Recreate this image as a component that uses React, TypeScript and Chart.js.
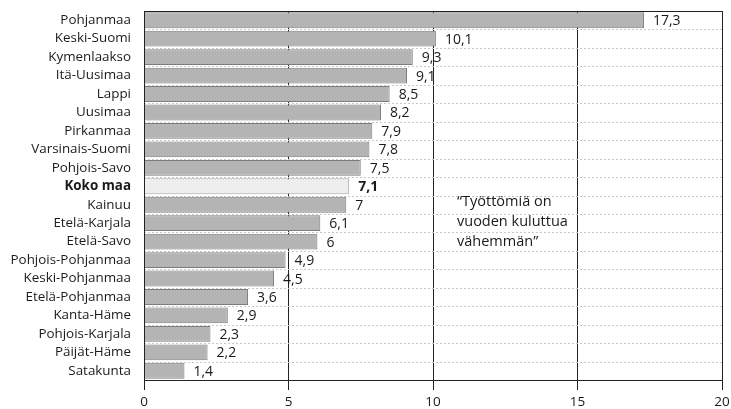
import React, { useEffect, useRef } from "react";
import { Chart, registerables } from "chart.js";

Chart.register(...registerables);

const regions = [
  "Pohjanmaa", "Keski-Suomi", "Kymenlaakso", "Itä-Uusimaa", "Lappi", "Uusimaa",
  "Pirkanmaa", "Varsinais-Suomi", "Pohjois-Savo", "Koko maa", "Kainuu",
  "Etelä-Karjala", "Etelä-Savo", "Pohjois-Pohjanmaa", "Keski-Pohjanmaa",
  "Etelä-Pohjanmaa", "Kanta-Häme", "Pohjois-Karjala", "Päijät-Häme", "Satakunta",
];
const values = [17.3, 10.1, 9.3, 9.1, 8.5, 8.2, 7.9, 7.8, 7.5, 7.1, 7, 6.1, 6, 4.9, 4.5, 3.6, 2.9, 2.3, 2.2, 1.4];
const valueLabels = ["17,3", "10,1", "9,3", "9,1", "8,5", "8,2", "7,9", "7,8", "7,5", "7,1", "7", "6,1", "6", "4,9", "4,5", "3,6", "2,9", "2,3", "2,2", "1,4"];
const highlight = "Koko maa";
const xTicks = [0, 5, 10, 15, 20];
const noteLines = ["\u201cTyöttömiä on", "vuoden kuluttua", "vähemmän\u201d"];

const FONT = "'Open Sans', 'DejaVu Sans', sans-serif";

export default function App() {
  const ref = useRef<HTMLCanvasElement | null>(null);

  useEffect(() => {
    document.body.style.margin = "0";
    const canvas = ref.current;
    if (!canvas) return;

    const deco = {
      id: "deco",
      beforeDatasetsDraw(chart: any) {
        const { ctx, chartArea } = chart;
        const y = chart.scales.y;
        ctx.save();
        ctx.strokeStyle = "#c8c8c8";
        ctx.lineWidth = 1;
        ctx.setLineDash([2, 2]);
        for (let i = 1; i < regions.length; i++) {
          const py = Math.round((y.getPixelForValue(i - 1) + y.getPixelForValue(i)) / 2) + 0.5;
          ctx.beginPath();
          ctx.moveTo(chartArea.left, py);
          ctx.lineTo(chartArea.right, py);
          ctx.stroke();
        }
        ctx.restore();
      },
      afterDatasetsDraw(chart: any) {
        const { ctx, chartArea } = chart;
        const x = chart.scales.x;
        const y = chart.scales.y;
        ctx.save();
        ctx.strokeStyle = "#222";
        ctx.lineWidth = 1;
        ctx.strokeRect(Math.round(chartArea.left) + 0.5, Math.round(chartArea.top) + 0.5,
          Math.round(chartArea.right - chartArea.left), Math.round(chartArea.bottom - chartArea.top));
        ctx.textBaseline = "middle";
        ctx.textAlign = "left";
        values.forEach((v, i) => {
          const bold = regions[i] === highlight;
          ctx.font = `${bold ? "bold " : ""}14px ${FONT}`;
          ctx.fillStyle = "#1a1a1a";
          ctx.fillText(valueLabels[i], x.getPixelForValue(v) + 9, y.getPixelForValue(i) + 1);
        });
        ctx.font = `14.5px ${FONT}`;
        const nx = x.getPixelForValue(10) + 24;
        const ny = y.getPixelForValue(10) - 3;
        noteLines.forEach((t, k) => ctx.fillText(t, nx, ny + k * 20));
        ctx.restore();
      },
    };

    const chart = new Chart(canvas, {
      type: "bar",
      data: {
        labels: regions,
        datasets: [
          {
            data: values,
            backgroundColor: regions.map((r) => (r === highlight ? "#eeeeee" : "#b4b4b4")),
            borderColor: regions.map((r) => (r === highlight ? "#a8a8a8" : "#7c7c7c")),
            borderWidth: 1,
            barPercentage: 0.86,
            categoryPercentage: 1,
          },
        ],
      },
      options: {
        indexAxis: "y",
        animation: false,
        responsive: false,
        maintainAspectRatio: false,
        layout: { padding: { top: 11, right: 9, left: 0, bottom: 0 } },
        plugins: { legend: { display: false }, tooltip: { enabled: false } },
        scales: {
          x: {
            min: 0,
            max: 20,
            afterBuildTicks: (s: any) => { s.ticks = xTicks.map((v) => ({ value: v })); },
            afterFit: (s: any) => { s.height = 29; },
            grid: {
              color: "#222",
              lineWidth: 1,
              tickLength: 10,
              drawTicks: true,
            },
            border: { display: true, color: "#222" },
            ticks: {
              color: "#1a1a1a",
              padding: 0,
              font: { family: FONT, size: 13.5, lineHeight: 1.85 },
              callback: (v: any) => String(v),
            },
          },
          y: {
            afterFit: (s: any) => { s.width = 144; },
            grid: {
              display: true,
              drawOnChartArea: false,
              drawTicks: true,
              tickLength: 13,
              tickColor: "rgba(0,0,0,0)",
            },
            border: { display: true, color: "#222" },
            ticks: {
              color: "#1a1a1a",
              padding: 0,
              autoSkip: false,
              font: (c: any) => ({
                family: FONT,
                size: 13.4,
                weight: regions[c.index] === highlight ? "bold" : "normal",
              }),
            },
          },
        },
      },
      plugins: [deco],
    });
    return () => chart.destroy();
  }, []);

  return <canvas ref={ref} width={731} height={409} style={{ display: "block" }} />;
}
